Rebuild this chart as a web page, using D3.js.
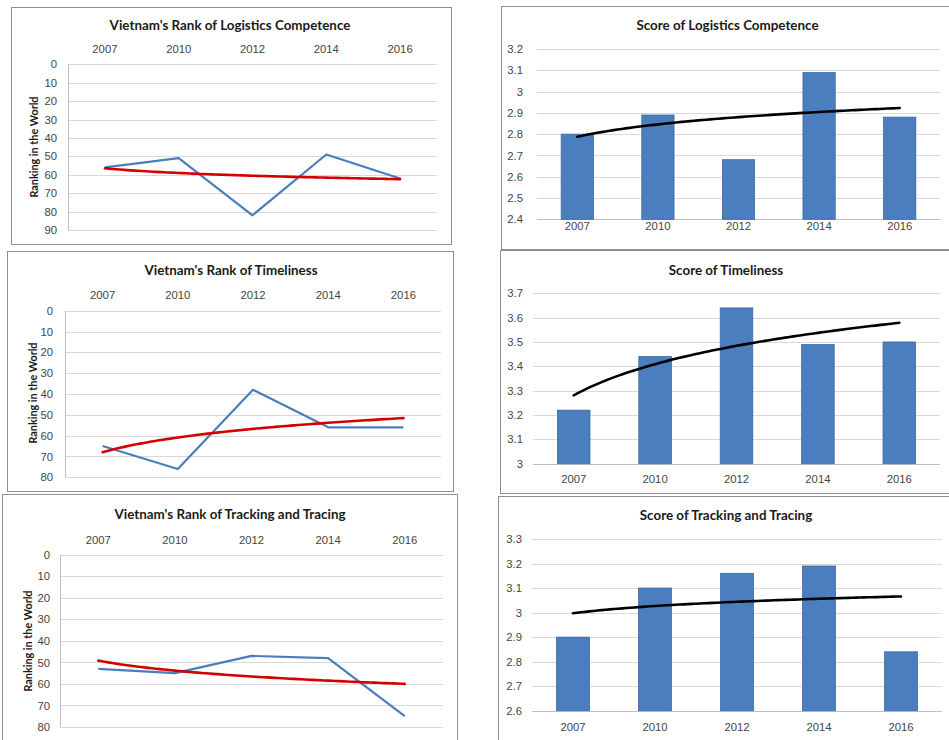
<!DOCTYPE html>
<html>
<head>
<meta charset="utf-8">
<script src="https://cdn.jsdelivr.net/npm/d3@7"></script>
<style>
  html, body { margin: 0; padding: 0; background: #fff; }
  svg { display: block; font-family: Lato, "Open Sans", sans-serif; }
</style>
</head>
<body>
<svg id="chart" width="949" height="740"></svg>
<script>
// LPI survey years
const years = ["2007", "2010", "2012", "2014", "2016"];

// Vietnam's world ranking per LPI component
const rankLogistics = [56, 51, 82, 49, 62];
const rankTimeliness = [65, 76, 38, 56, 56];
const rankTracking = [53, 55, 47, 48, 75];

// Vietnam's LPI scores per component
const scoreLogistics = [2.80, 2.89, 2.68, 3.09, 2.88];
const scoreTimeliness = [3.22, 3.44, 3.64, 3.49, 3.50];
const scoreTracking = [2.90, 3.10, 3.16, 3.19, 2.84];

// Axis tick values
const rankTicks90 = [0, 10, 20, 30, 40, 50, 60, 70, 80, 90];
const rankTicks80 = [0, 10, 20, 30, 40, 50, 60, 70, 80];
const scoreTicksLogistics = [2.4, 2.5, 2.6, 2.7, 2.8, 2.9, 3, 3.1, 3.2];
const scoreTicksTimeliness = [3, 3.1, 3.2, 3.3, 3.4, 3.5, 3.6, 3.7];
const scoreTicksTracking = [2.6, 2.7, 2.8, 2.9, 3, 3.1, 3.2, 3.3];

const svg = d3.select("#chart");

const GRID = "#d9d9d9";
const TEXT = "#454545";
const BLUE_LINE = "#4a7ebb";
const RED_TREND = "#d40000";
const BAR_FILL = "#4a7ebf";
const BAR_STROKE = "#3b68a3";
const TICK_SIZE = 11.3;

// Logarithmic least-squares trend: y = a + b * ln(x), x = 1..n
function logFit(values) {
  const xs = values.map((_, i) => Math.log(i + 1));
  const mx = d3.mean(xs), my = d3.mean(values);
  let sxy = 0, sxx = 0;
  xs.forEach((x, i) => { sxy += (x - mx) * (values[i] - my); sxx += (x - mx) * (x - mx); });
  const b = sxy / sxx;
  return { a: my - b * mx, b };
}

function trendPoints(values, xBand, y) {
  const fit = logFit(values);
  const half = xBand.bandwidth() / 2;
  const xc = d3.scaleLinear()
    .domain([1, values.length])
    .range([xBand(years[0]) + half, xBand(years[years.length - 1]) + half]);
  return d3.range(1, values.length + 0.0001, 0.05)
    .map(t => [xc(t), y(fit.a + fit.b * Math.log(t))]);
}

function frame(box) {
  svg.append("rect")
    .attr("x", box.x + 0.5).attr("y", box.y + 0.5)
    .attr("width", box.w).attr("height", box.h)
    .attr("fill", "#fff").attr("stroke", "#8e8e8e").attr("stroke-width", 1);
}

function title(cfg) {
  svg.append("text")
    .attr("x", cfg.title.x).attr("y", cfg.title.y)
    .attr("text-anchor", "middle").attr("dominant-baseline", "central")
    .attr("font-size", 13.4).attr("font-weight", "bold").attr("fill", "#1a1a1a")
    .text(cfg.name);
}

// Ranking chart: reversed value axis, categories along the top, blue series + red log trend
function rankPanel(cfg) {
  frame(cfg.box);
  title(cfg);
  const p = cfg.plot;
  const x = d3.scaleBand().domain(years).range([p.l, p.r]);
  const y = d3.scaleLinear().domain([0, d3.max(cfg.ticks)]).range([p.t, p.b]);
  const g = svg.append("g");

  g.selectAll("line.grid").data(cfg.ticks).join("line")
    .attr("x1", p.l).attr("x2", p.r)
    .attr("y1", d => Math.round(y(d)) + 0.5).attr("y2", d => Math.round(y(d)) + 0.5)
    .attr("stroke", GRID).attr("stroke-width", 1);
  g.append("line")
    .attr("x1", p.l + 0.5).attr("x2", p.l + 0.5)
    .attr("y1", y(0)).attr("y2", y(d3.max(cfg.ticks)))
    .attr("stroke", "#bfbfbf");

  const yAxis = d3.axisLeft(y).tickValues(cfg.ticks).tickSize(0).tickPadding(0);
  const ya = g.append("g").attr("transform", `translate(${cfg.tickX},0)`).call(yAxis);
  ya.select(".domain").remove();
  ya.selectAll("text").attr("font-size", TICK_SIZE).attr("fill", TEXT).attr("font-family", null);

  const xAxis = d3.axisTop(x).tickSize(0).tickPadding(0);
  const xa = g.append("g").attr("transform", `translate(0,${cfg.yearsY})`).call(xAxis);
  xa.select(".domain").remove();
  xa.selectAll("text").attr("font-size", TICK_SIZE).attr("fill", TEXT).attr("font-family", null)
    .attr("dy", "0.35em");

  svg.append("text")
    .attr("transform", `translate(${cfg.axisTitle.x},${cfg.axisTitle.y}) rotate(-90)`)
    .attr("text-anchor", "middle").attr("dominant-baseline", "central")
    .attr("font-size", 10.8).attr("font-weight", "bold").attr("fill", "#1a1a1a")
    .text("Ranking in the World");

  const line = d3.line();
  g.append("path")
    .attr("d", line(cfg.values.map((v, i) => [x(years[i]) + x.bandwidth() / 2, y(v)])))
    .attr("fill", "none").attr("stroke", BLUE_LINE).attr("stroke-width", 2.2)
    .attr("stroke-linejoin", "round");
  g.append("path")
    .attr("d", line(trendPoints(cfg.values, x, y)))
    .attr("fill", "none").attr("stroke", RED_TREND).attr("stroke-width", 2.6)
    .attr("stroke-linecap", "round");
}

// Score chart: clustered columns + black log trend
function scorePanel(cfg) {
  frame(cfg.box);
  title(cfg);
  const p = cfg.plot;
  const x = d3.scaleBand().domain(years).range([p.l, p.r]).paddingInner(0.6).paddingOuter(0.3);
  const xc = d3.scaleBand().domain(years).range([p.l, p.r]);
  const lo = d3.min(cfg.ticks), hi = d3.max(cfg.ticks);
  const y = d3.scaleLinear().domain([lo, hi]).range([p.b, p.t]);
  const g = svg.append("g");

  g.selectAll("line.grid").data(cfg.ticks).join("line")
    .attr("x1", p.l).attr("x2", p.r)
    .attr("y1", d => Math.round(y(d)) + 0.5).attr("y2", d => Math.round(y(d)) + 0.5)
    .attr("stroke", d => d === lo ? "#bfbfbf" : GRID).attr("stroke-width", 1);

  const yAxis = d3.axisLeft(y).tickValues(cfg.ticks).tickSize(0).tickPadding(0)
    .tickFormat(d => String(+d.toFixed(1)));
  const ya = g.append("g").attr("transform", `translate(${cfg.tickX},0)`).call(yAxis);
  ya.select(".domain").remove();
  ya.selectAll("text").attr("font-size", TICK_SIZE).attr("fill", TEXT).attr("font-family", null);

  g.selectAll("rect.bar").data(cfg.values).join("rect")
    .attr("x", (d, i) => x(years[i]))
    .attr("width", x.bandwidth())
    .attr("y", d => y(d))
    .attr("height", d => y(lo) - y(d))
    .attr("fill", BAR_FILL).attr("stroke", BAR_STROKE).attr("stroke-width", 0.8);

  const xAxis = d3.axisBottom(xc).tickSize(0).tickPadding(0);
  const xa = g.append("g").attr("transform", `translate(0,${cfg.yearsY})`).call(xAxis);
  xa.select(".domain").remove();
  xa.selectAll("text").attr("font-size", TICK_SIZE).attr("fill", TEXT).attr("font-family", null)
    .attr("dy", "0.35em");

  g.append("path")
    .attr("d", d3.line()(trendPoints(cfg.values, xc, y)))
    .attr("fill", "none").attr("stroke", "#000").attr("stroke-width", 2.6)
    .attr("stroke-linecap", "round");
}

rankPanel({
  name: "Vietnam's Rank of Logistics Competence", values: rankLogistics, ticks: rankTicks90,
  box: { x: 11, y: 7, w: 440, h: 237 }, plot: { l: 68, r: 437, t: 64.3, b: 230 },
  title: { x: 230, y: 25 }, yearsY: 49, tickX: 57, axisTitle: { x: 33, y: 147 }
});
rankPanel({
  name: "Vietnam's Rank of Timeliness", values: rankTimeliness, ticks: rankTicks80,
  box: { x: 7, y: 251, w: 446, h: 240 }, plot: { l: 65, r: 441, t: 310.7, b: 477.3 },
  title: { x: 231, y: 270 }, yearsY: 295, tickX: 53, axisTitle: { x: 32, y: 393 }
});
rankPanel({
  name: "Vietnam's Rank of Tracking and Tracing", values: rankTracking, ticks: rankTicks80,
  box: { x: 2, y: 494, w: 455, h: 252 }, plot: { l: 60, r: 443, t: 554.7, b: 727 },
  title: { x: 230, y: 514 }, yearsY: 540, tickX: 50, axisTitle: { x: 27, y: 641 }
});

scorePanel({
  name: "Score of Logistics Competence", values: scoreLogistics, ticks: scoreTicksLogistics,
  box: { x: 501, y: 6, w: 460, h: 243 }, plot: { l: 537, r: 940, t: 49, b: 219.3 },
  title: { x: 727.5, y: 25 }, yearsY: 226, tickX: 523
});
scorePanel({
  name: "Score of Timeliness", values: scoreTimeliness, ticks: scoreTicksTimeliness,
  box: { x: 500, y: 250, w: 460, h: 243 }, plot: { l: 533, r: 940, t: 293.3, b: 463.7 },
  title: { x: 726, y: 270 }, yearsY: 479, tickX: 523
});
scorePanel({
  name: "Score of Tracking and Tracing", values: scoreTracking, ticks: scoreTicksTracking,
  box: { x: 498, y: 496, w: 460, h: 252 }, plot: { l: 532, r: 942, t: 539, b: 710.7 },
  title: { x: 726, y: 515 }, yearsY: 727, tickX: 522
});
</script>
</body>
</html>
